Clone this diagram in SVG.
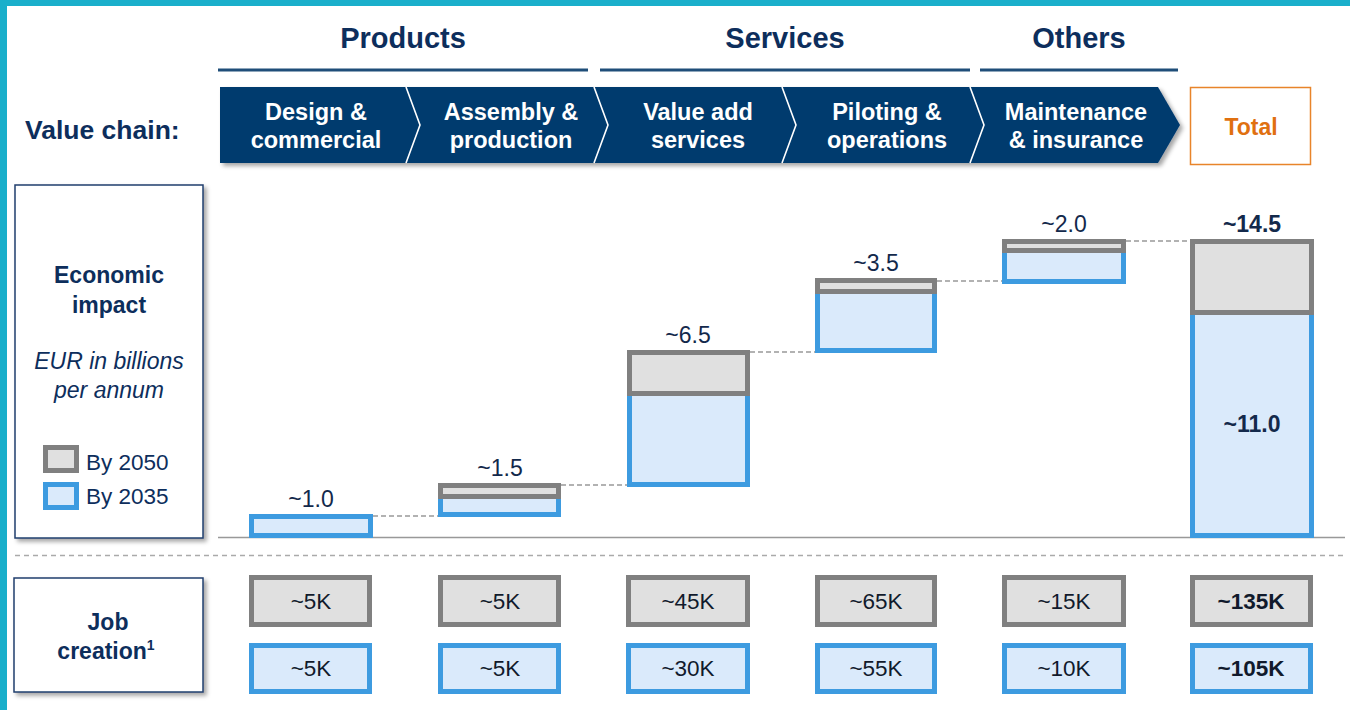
<svg xmlns="http://www.w3.org/2000/svg" width="1350" height="710" viewBox="0 0 1350 710">
<defs>
<style>
text{font-family:"Liberation Sans",Arial,sans-serif;}
.hdr{font-size:29px;font-weight:bold;fill:#0d2e5c;text-anchor:middle;}
.seg{font-size:23.5px;font-weight:bold;fill:#ffffff;text-anchor:middle;}
.navyb{font-size:23px;font-weight:bold;fill:#0d2e5c;text-anchor:middle;}
.ital{font-size:23px;font-style:italic;fill:#0d2e5c;text-anchor:middle;}
.leg{font-size:22.5px;fill:#0d2e5c;}
.lbl{font-size:23px;fill:#13294b;text-anchor:middle;}
.lblb{font-size:23px;font-weight:bold;fill:#13294b;text-anchor:middle;}
.jl{font-size:22.5px;fill:#111a2c;text-anchor:middle;}
.jlb{font-size:22.5px;font-weight:bold;fill:#111a2c;text-anchor:middle;}
.g{fill:#e0e0e0;stroke:#808080;stroke-width:5;}
.b{fill:#daeafb;stroke:#3d9be0;stroke-width:5;}
.conn{stroke:#999999;stroke-width:1.5;stroke-dasharray:5 3;fill:none;}
.panel{fill:#ffffff;stroke:#1f3f6e;stroke-width:1.5;}
.div{stroke:#ffffff;stroke-width:1.6;fill:none;}
.grp{stroke:#1f4e79;stroke-width:3;}
</style>
<filter id="sh" x="-10%" y="-10%" width="130%" height="130%">
<feDropShadow dx="3" dy="3" stdDeviation="2" flood-color="#000000" flood-opacity="0.35"/>
</filter>
</defs>
<rect x="0" y="0" width="1350" height="710" fill="#ffffff"/>
<rect x="0" y="0" width="1350" height="6" fill="#1aafcb"/>
<rect x="0" y="0" width="7" height="710" fill="#1aafcb"/>

<g id="groups">
<text class="hdr" x="403" y="48">Products</text>
<line class="grp" x1="218" y1="70" x2="588" y2="70"/>
<text class="hdr" x="785" y="48">Services</text>
<line class="grp" x1="600" y1="70" x2="970" y2="70"/>
<text class="hdr" x="1079" y="48">Others</text>
<line class="grp" x1="980" y1="70" x2="1178" y2="70"/>
</g>

<g id="value-chain-label">
<text x="25" y="139" style="font-size:26.5px;font-weight:bold;fill:#0d2e5c;">Value chain:</text>
</g>

<g id="value-chain">
<polygon points="220,87 1158,87 1180,125 1158,163 220,163" fill="#063a6e" filter="url(#sh)"/>
<polyline class="div" points="406,87 420,125 406,163"/>
<polyline class="div" points="594,87 608,125 594,163"/>
<polyline class="div" points="782,87 796,125 782,163"/>
<polyline class="div" points="970,87 984,125 970,163"/>
<g id="seg-design"><text class="seg" x="316" y="120">Design &amp;</text><text class="seg" x="316" y="148">commercial</text></g>
<g id="seg-assembly"><text class="seg" x="511" y="120">Assembly &amp;</text><text class="seg" x="511" y="148">production</text></g>
<g id="seg-value"><text class="seg" x="698" y="120">Value add</text><text class="seg" x="698" y="148">services</text></g>
<g id="seg-piloting"><text class="seg" x="887" y="120">Piloting &amp;</text><text class="seg" x="887" y="148">operations</text></g>
<g id="seg-maint"><text class="seg" x="1076" y="120">Maintenance</text><text class="seg" x="1076" y="148">&amp; insurance</text></g>
</g>

<g id="total-header">
<rect x="1190.5" y="87.5" width="120" height="77" fill="#ffffff" stroke="#e8842a" stroke-width="1.5"/>
<text x="1251" y="135" style="font-size:23px;font-weight:bold;fill:#e07010;text-anchor:middle;">Total</text>
</g>

<g id="economic-panel">
<rect class="panel" x="15" y="185" width="188" height="353" filter="url(#sh)"/>
<text class="navyb" x="109" y="283">Economic</text>
<text class="navyb" x="109" y="313">impact</text>
<text class="ital" x="109" y="369">EUR in billions</text>
<text class="ital" x="109" y="398">per annum</text>
<rect class="g" x="45.5" y="447.5" width="31" height="23"/>
<text class="leg" x="86" y="470">By 2050</text>
<rect class="b" x="45.5" y="484.5" width="31" height="23"/>
<text class="leg" x="86" y="504">By 2035</text>
</g>

<g id="axes">
<line x1="218" y1="537.5" x2="1345" y2="537.5" stroke="#999999" stroke-width="1.5"/>
<line x1="15" y1="555.5" x2="1345" y2="555.5" stroke="#aaaaaa" stroke-width="1.5" stroke-dasharray="5 4"/>
</g>

<g id="connectors">
<line class="conn" x1="373" y1="516" x2="438" y2="516"/>
<line class="conn" x1="561" y1="485" x2="627" y2="485"/>
<line class="conn" x1="750" y1="352" x2="815" y2="352"/>
<line class="conn" x1="937" y1="281" x2="1002" y2="281"/>
<line class="conn" x1="1126" y1="241" x2="1190" y2="241"/>
</g>

<g id="bar-design">
<rect class="b" x="251.5" y="516.5" width="119" height="19"/>
<text class="lbl" x="311" y="507">~1.0</text>
</g>
<g id="bar-assembly">
<rect class="b" x="440.5" y="496.5" width="118" height="18"/>
<rect class="g" x="440.5" y="485.5" width="118" height="11"/>
<text class="lbl" x="500" y="476">~1.5</text>
</g>
<g id="bar-value">
<rect class="b" x="629.5" y="393.5" width="118" height="91"/>
<rect class="g" x="629.5" y="352.5" width="118" height="41"/>
<text class="lbl" x="688" y="343">~6.5</text>
</g>
<g id="bar-piloting">
<rect class="b" x="817.5" y="291.5" width="117" height="59"/>
<rect class="g" x="817.5" y="280.5" width="117" height="11"/>
<text class="lbl" x="876" y="271">~3.5</text>
</g>
<g id="bar-maint">
<rect class="b" x="1004.5" y="250.5" width="119" height="31"/>
<rect class="g" x="1004.5" y="241.5" width="119" height="9"/>
<text class="lbl" x="1064" y="232">~2.0</text>
</g>
<g id="bar-total">
<rect class="b" x="1192.5" y="312.5" width="119" height="223"/>
<rect class="g" x="1192.5" y="241.5" width="119" height="71"/>
<text class="lblb" x="1252" y="232">~14.5</text>
<text class="lblb" x="1252" y="432">~11.0</text>
</g>

<g id="job-panel">
<rect class="panel" x="14" y="578" width="189" height="114" filter="url(#sh)"/>
<text class="navyb" x="108" y="630">Job</text>
<text class="navyb" x="106" y="659">creation<tspan dy="-9" style="font-size:14px;">1</tspan></text>
</g>

<g id="jobs-design">
<rect class="g" x="251.5" y="577.5" width="118" height="47"/><text class="jl" x="311" y="609">~5K</text>
<rect class="b" x="251.5" y="645.5" width="118" height="46"/><text class="jl" x="311" y="676">~5K</text>
</g>
<g id="jobs-assembly">
<rect class="g" x="440.5" y="577.5" width="118" height="47"/><text class="jl" x="500" y="609">~5K</text>
<rect class="b" x="440.5" y="645.5" width="118" height="46"/><text class="jl" x="500" y="676">~5K</text>
</g>
<g id="jobs-value">
<rect class="g" x="628.5" y="577.5" width="119" height="47"/><text class="jl" x="688" y="609">~45K</text>
<rect class="b" x="628.5" y="645.5" width="119" height="46"/><text class="jl" x="688" y="676">~30K</text>
</g>
<g id="jobs-piloting">
<rect class="g" x="817.5" y="577.5" width="117" height="47"/><text class="jl" x="876" y="609">~65K</text>
<rect class="b" x="817.5" y="645.5" width="117" height="46"/><text class="jl" x="876" y="676">~55K</text>
</g>
<g id="jobs-maint">
<rect class="g" x="1004.5" y="577.5" width="119" height="47"/><text class="jl" x="1064" y="609">~15K</text>
<rect class="b" x="1004.5" y="645.5" width="119" height="46"/><text class="jl" x="1064" y="676">~10K</text>
</g>
<g id="jobs-total">
<rect class="g" x="1192.5" y="577.5" width="118" height="47"/><text class="jlb" x="1251" y="609">~135K</text>
<rect class="b" x="1192.5" y="645.5" width="118" height="46"/><text class="jlb" x="1251" y="676">~105K</text>
</g>
</svg>
